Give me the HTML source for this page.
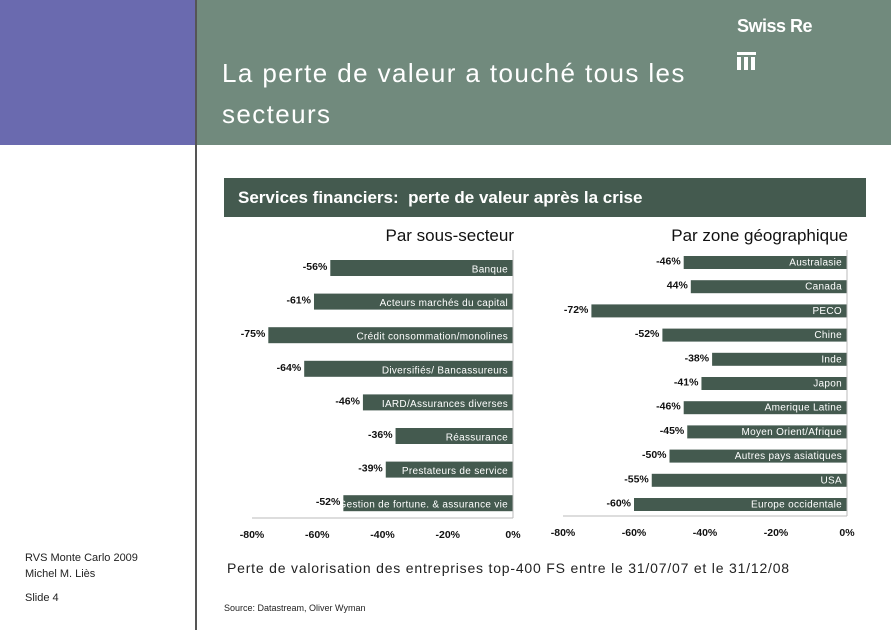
<!DOCTYPE html>
<html><head><meta charset="utf-8"><style>
body{margin:0;width:891px;height:630px;overflow:hidden;background:#fff;font-family:"Liberation Sans",sans-serif;position:relative}
.abs{position:absolute}
</style></head><body>
<div class="abs" style="left:0;top:0;width:196px;height:145px;background:#6A6AAF"></div>
<div class="abs" style="left:196px;top:0;width:695px;height:145px;background:#718A7D"></div>
<div class="abs" style="left:195px;top:0;width:2px;height:630px;background:#555"></div>
<div class="abs" style="left:222px;top:53px;color:#fff;font-size:26px;line-height:41px;letter-spacing:1.4px">La perte de valeur a touché tous les<br>secteurs</div>
<div class="abs" style="left:737px;top:16px;color:#fff;font-size:18px;font-weight:bold;letter-spacing:-0.5px">Swiss Re</div>
<div class="abs" style="left:737px;top:52px;width:19px;height:18px">
<div class="abs" style="left:0;top:0;width:19px;height:3px;background:#fff"></div>
<div class="abs" style="left:0;top:5px;width:4px;height:13px;background:#fff"></div>
<div class="abs" style="left:7px;top:5px;width:4px;height:13px;background:#fff"></div>
<div class="abs" style="left:14px;top:5px;width:4px;height:13px;background:#fff"></div>
</div>
<div class="abs" style="left:224px;top:178px;width:642px;height:39px;background:#445A4F;color:#fff;font-weight:bold;font-size:17px;line-height:39px;padding-left:14px;box-sizing:border-box">Services financiers:&nbsp; perte de valeur après la crise</div>
<div class="abs" style="left:25px;top:550px;font-size:11px;line-height:16px;color:#222">RVS Monte Carlo 2009<br>Michel M. Liès<br><div style="height:8px"></div>Slide 4</div>
<div class="abs" style="left:227px;top:560px;font-size:14px;color:#222;letter-spacing:0.8px">Perte de valorisation des entreprises top-400 FS entre le 31/07/07 et le 31/12/08</div>
<div class="abs" style="left:224px;top:603px;font-size:9px;color:#222">Source: Datastream, Oliver Wyman</div>
<svg class="abs" style="left:0;top:0" width="891" height="630" id="chart"></svg>
<script>
const leftCats=["Banque","Acteurs marchés  du capital","Crédit consommation/monolines","Diversifiés/ Bancassureurs","IARD/Assurances diverses","Réassurance","Prestateurs de service","Gestion de fortune. & assurance vie"];
const leftVals=[-56,-61,-75,-64,-46,-36,-39,-52];
const leftLabels=["-56%","-61%","-75%","-64%","-46%","-36%","-39%","-52%"];
const rightCats=["Australasie","Canada","PECO","Chine","Inde","Japon","Amerique Latine","Moyen Orient/Afrique","Autres pays asiatiques","USA","Europe occidentale"];
const rightVals=[-46,-44,-72,-52,-38,-41,-46,-45,-50,-55,-60];
const rightLabels=["-46%","44%","-72%","-52%","-38%","-41%","-46%","-45%","-50%","-55%","-60%"];
const ticks=[-80,-60,-40,-20,0];
const svg=document.getElementById('chart');
const NS='http://www.w3.org/2000/svg';
function mk(t,a,txt){const e=document.createElementNS(NS,t);for(const k in a)e.setAttribute(k,a[k]);if(txt!==undefined)e.textContent=txt;svg.appendChild(e);return e;}
function draw(cfg,cats,vals,labels){
  const x=v=>cfg.x0+(v/80)*(cfg.x0-cfg.xm);
  const t=mk('text',{x:cfg.titleX,y:cfg.titleY,'font-size':17,'text-anchor':'end',fill:'#111'},cfg.title);
  
  
  cats.forEach((c,i)=>{
    const y=cfg.y0+i*cfg.step;
    const r=mk('rect',{x:x(vals[i]),y:y,width:x(0)-x(vals[i]),height:cfg.bh,fill:'#445A4F'});
    
    
    const ct=mk('text',{x:x(0)-5,y:y+cfg.bh-3.5,'font-size':10,'text-anchor':'end',fill:'#fff','letter-spacing':'0.3'},c);
    
    
    const vt=mk('text',{x:x(vals[i])-3,y:y+cfg.bh/2+2,'font-size':10.5,'font-weight':'bold','text-anchor':'end',fill:'#111'},labels[i]);
    
    
  });
  const ax=mk('line',{x1:x(0),x2:x(0),y1:cfg.axTop,y2:cfg.base,stroke:'#bbb','stroke-width':1});
  
  
  const bx=mk('line',{x1:x(-80),x2:x(0),y1:cfg.base,y2:cfg.base,stroke:'#bbb','stroke-width':1});
  
  
  ticks.forEach(v=>{
    const tt=mk('text',{x:x(v),y:cfg.base+20,'font-size':10.5,'font-weight':'bold','text-anchor':'middle',fill:'#111'},v+'%');
    
    
  });
}
draw({key:'sector',title:'Par sous-secteur',titleX:514,titleY:241,x0:513,xm:252,y0:260,step:33.6,bh:16,axTop:250,base:518},leftCats,leftVals,leftLabels);
draw({key:'geo',title:'Par zone géographique',titleX:848,titleY:241,x0:847,xm:563,y0:256,step:24.2,bh:13,axTop:250,base:516},rightCats,rightVals,rightLabels);
</script>
</body></html>
